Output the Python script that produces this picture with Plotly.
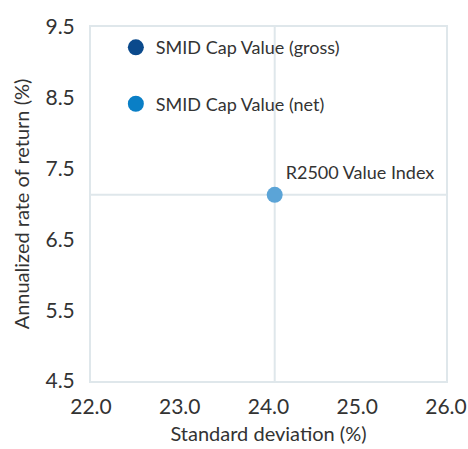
import plotly.graph_objects as go

# Data
index_name = "R2500 Value Index"
index_std = [24.07]
index_ret = [7.13]
gross_name = "SMID Cap Value (gross)"
gross_std = [None]
gross_ret = [None]
net_name = "SMID Cap Value (net)"
net_std = [None]
net_ret = [None]

x_ticks = [22.0, 23.0, 24.0, 25.0, 26.0]
y_ticks = [4.5, 5.5, 6.5, 7.5, 8.5, 9.5]

GRID = "#dfe7eb"
FONT = "Lato, 'Open Sans', sans-serif"
TXT = "#333333"

fig = go.Figure()
fig.add_trace(go.Scatter(x=gross_std, y=gross_ret, mode="markers", name=gross_name,
                         marker=dict(size=16, color="#0b4a8c"), legendgroup="g"))
fig.add_trace(go.Scatter(x=net_std, y=net_ret, mode="markers", name=net_name,
                         marker=dict(size=16, color="#0a7fc6"), legendgroup="n"))
fig.add_trace(go.Scatter(x=index_std, y=index_ret, mode="markers+text", name=index_name,
                         text=[index_name], textposition="top right",
                         textfont=dict(size=18, color=TXT, family=FONT),
                         marker=dict(size=16, color="#5ba4d7"), showlegend=False, cliponaxis=False))

# crosshair through the index point
fig.add_shape(type="line", xref="x", yref="paper", x0=index_std[0], x1=index_std[0], y0=0, y1=1,
              line=dict(color=GRID, width=2), layer="below")
fig.add_shape(type="line", xref="paper", yref="y", x0=0, x1=1, y0=index_ret[0], y1=index_ret[0],
              line=dict(color=GRID, width=2), layer="below")

fig.update_layout(
    width=468, height=449,
    margin=dict(l=91, r=22, t=27, b=68),
    paper_bgcolor="white", plot_bgcolor="white",
    font=dict(family=FONT, color=TXT, size=18),
    legend=dict(x=0.07, y=0.994, xanchor="left", yanchor="top", bgcolor="rgba(0,0,0,0)",
                font=dict(size=18, color=TXT, family=FONT), tracegroupgap=30, itemwidth=30),
    showlegend=True,
)
fig.update_xaxes(range=[22, 26], tickvals=x_ticks, ticktext=[f"{v:.1f}" for v in x_ticks],
                 showgrid=False, zeroline=False, showline=True, mirror=True,
                 linecolor=GRID, linewidth=2, ticks="", tickfont=dict(size=21, color=TXT),
                 ticklabelstandoff=6, automargin=False,
                 title=dict(text="Standard deviation (%)", font=dict(size=20, color=TXT), standoff=10))
fig.update_yaxes(range=[4.5, 9.5], tickvals=y_ticks, ticktext=[f"{v:.1f}" for v in y_ticks],
                 showgrid=False, zeroline=False, showline=True, mirror=True,
                 linecolor=GRID, linewidth=2, ticks="", tickfont=dict(size=21, color=TXT),
                 ticklabelstandoff=10, automargin=False,
                 title=dict(text="Annualized rate of return (%)", font=dict(size=20, color=TXT), standoff=10))

fig.write_html("out.html", config={"displayModeBar": False},
               post_script="document.body.style.margin='0';document.body.style.overflow='hidden';")
